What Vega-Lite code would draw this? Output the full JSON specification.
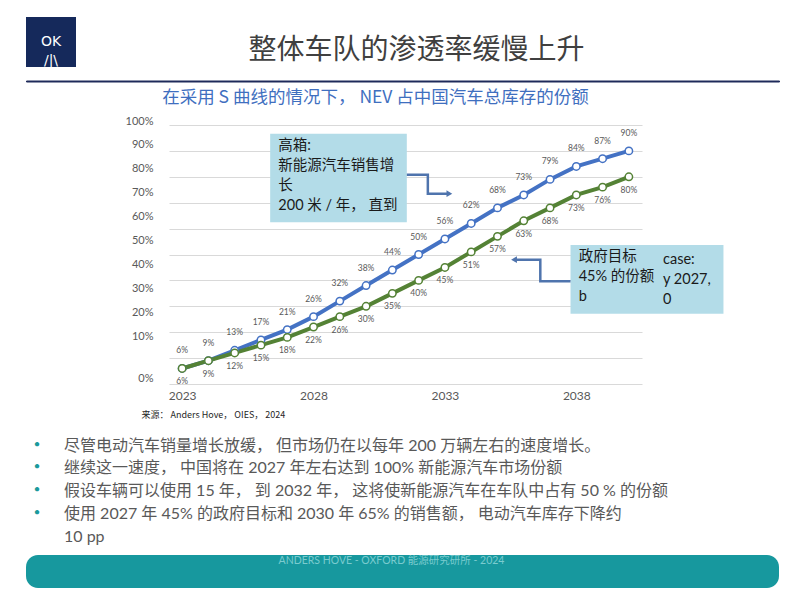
{
  "$schema": "https://vega.github.io/schema/vega-lite/v6.json",
  "background": "white",
  "padding": {"left": 25, "top": 17, "right": 10, "bottom": 14},
  "config": {
    "view": {"stroke": null},
    "font": "Noto Sans CJK SC"
  },
  "datasets": {
    "series": [
      {"s": "high", "year": 2023, "v": 0.06}, {"s": "high", "year": 2024, "v": 0.09},
      {"s": "high", "year": 2025, "v": 0.13}, {"s": "high", "year": 2026, "v": 0.17},
      {"s": "high", "year": 2027, "v": 0.21}, {"s": "high", "year": 2028, "v": 0.26},
      {"s": "high", "year": 2029, "v": 0.32}, {"s": "high", "year": 2030, "v": 0.38},
      {"s": "high", "year": 2031, "v": 0.44}, {"s": "high", "year": 2032, "v": 0.50},
      {"s": "high", "year": 2033, "v": 0.56}, {"s": "high", "year": 2034, "v": 0.62},
      {"s": "high", "year": 2035, "v": 0.68}, {"s": "high", "year": 2036, "v": 0.73},
      {"s": "high", "year": 2037, "v": 0.79}, {"s": "high", "year": 2038, "v": 0.84},
      {"s": "high", "year": 2039, "v": 0.87}, {"s": "high", "year": 2040, "v": 0.90},
      {"s": "target", "year": 2023, "v": 0.06}, {"s": "target", "year": 2024, "v": 0.09},
      {"s": "target", "year": 2025, "v": 0.12}, {"s": "target", "year": 2026, "v": 0.15},
      {"s": "target", "year": 2027, "v": 0.18}, {"s": "target", "year": 2028, "v": 0.22},
      {"s": "target", "year": 2029, "v": 0.26}, {"s": "target", "year": 2030, "v": 0.30},
      {"s": "target", "year": 2031, "v": 0.35}, {"s": "target", "year": 2032, "v": 0.40},
      {"s": "target", "year": 2033, "v": 0.45}, {"s": "target", "year": 2034, "v": 0.51},
      {"s": "target", "year": 2035, "v": 0.57}, {"s": "target", "year": 2036, "v": 0.63},
      {"s": "target", "year": 2037, "v": 0.68}, {"s": "target", "year": 2038, "v": 0.73},
      {"s": "target", "year": 2039, "v": 0.76}, {"s": "target", "year": 2040, "v": 0.80}
    ],
    "boxes": [
      {"year": 2026.35, "year2": 2031.55, "v": 0.966, "v2": 0.625},
      {"year": 2037.78, "year2": 2043.6, "v": 0.537, "v2": 0.271}
    ],
    "boxtext": [
      {"year": 2026.66, "v": 0.946, "t": "高箱:\n新能源汽车销售增\n长\n200 米 / 年， 直到"},
      {"year": 2038.09, "v": 0.519, "t": "政府目标\n45% 的份额\nb"},
      {"year": 2041.3, "v": 0.507, "t": "case:\ny 2027,\n0"}
    ],
    "arrows": [
      {"a": 1, "o": 1, "year": 2031.55, "v": 0.808},
      {"a": 1, "o": 2, "year": 2032.35, "v": 0.808},
      {"a": 1, "o": 3, "year": 2032.35, "v": 0.735},
      {"a": 1, "o": 4, "year": 2033.1, "v": 0.735},
      {"a": 2, "o": 1, "year": 2037.78, "v": 0.397},
      {"a": 2, "o": 2, "year": 2036.63, "v": 0.397},
      {"a": 2, "o": 3, "year": 2036.63, "v": 0.48},
      {"a": 2, "o": 4, "year": 2035.7, "v": 0.48}
    ],
    "heads": [
      {"year": 2033.17, "v": 0.735, "dir": "right"},
      {"year": 2035.63, "v": 0.48, "dir": "left"}
    ],
    "bullets": [
      {"line": 1, "b": "•", "t": "尽管电动汽车销量增长放缓， 但市场仍在以每年 200 万辆左右的速度增长。"},
      {"line": 2, "b": "•", "t": "继续这一速度， 中国将在 2027 年左右达到 100% 新能源汽车市场份额"},
      {"line": 3, "b": "•", "t": "假设车辆可以使用 15 年， 到 2032 年， 这将使新能源汽车在车队中占有 50 % 的份额"},
      {"line": 4, "b": "•", "t": "使用 2027 年 45% 的政府目标和 2030 年 65% 的销售额， 电动汽车库存下降约"},
      {"line": 5, "b": "", "t": "10 pp"}
    ]
  },
  "spacing": 8.5,
  "vconcat": [
    {
      "spacing": 0,
      "hconcat": [
        {
          "width": 50, "height": 50,
          "view": {"fill": "#15295B", "stroke": null},
          "data": {"values": [{"t": "OK\n/|\\"}]},
          "mark": {"type": "text", "color": "white", "fontSize": 14, "font": "DejaVu Sans", "lineBreak": "\n", "lineHeight": 19, "baseline": "middle"},
          "encoding": {"text": {"field": "t"}}
        },
        {
          "width": 703, "height": 53.5,
          "data": {"values": [{"t": "整体车队的渗透率缓慢上升"}]},
          "mark": {"type": "text", "fontSize": 28, "color": "#404040", "dx": -11, "dy": 7, "baseline": "middle"},
          "encoding": {"text": {"field": "t"}}
        }
      ]
    },
    {
      "width": 753, "height": 1,
      "view": {"fill": "#1F2A5A", "stroke": "#1F2A5A", "strokeWidth": 1},
      "data": {"values": [{"t": "在采用 S 曲线的情况下， NEV 占中国汽车总库存的份额"}]},
      "mark": {"type": "text", "fontSize": 17.5, "color": "#3F6FBF", "dx": -27, "dy": 16.5, "baseline": "middle"},
      "encoding": {"text": {"field": "t"}}
    },
    {
      "spacing": 0,
      "hconcat": [
        {
          "width": 99, "height": 10,
          "data": {"values": [{"t": ""}]},
          "mark": {"type": "text", "text": ""}
        },
        {
          "width": 473, "height": 259,
          "encoding": {
            "x": {
              "field": "year", "type": "quantitative",
              "scale": {"domain": [2022.5, 2040.5], "nice": false, "zero": false},
              "axis": {
                "values": [2023, 2028, 2033, 2038], "format": "d",
                "grid": false, "ticks": false, "tickSize": 0, "domain": false,
                "labelFontSize": 12, "labelColor": "#595959", "labelPadding": 6, "labelFont": "Lato",
                "title": "来源： Anders Hove， OIES， 2024",
                "titleFontSize": 9, "titleFontWeight": "normal", "titleColor": "#262626",
                "titleAnchor": "start", "titleAlign": "left", "titleX": -28, "titleY": 30, "titleBaseline": "middle"
              }
            },
            "y": {
              "field": "v", "type": "quantitative",
              "scale": {"domain": [0, 1], "nice": false},
              "axis": {
                "values": [0, 0.1, 0.2, 0.3, 0.4, 0.5, 0.6, 0.7, 0.8, 0.9, 1],
                "format": ".0%", "grid": true, "gridColor": "#D9D9D9", "gridWidth": 1,
                "domain": false, "ticks": false, "tickSize": 0, "labelPadding": 16,
                "labelFontSize": 11, "labelColor": "#595959", "labelFont": "Lato", "title": null,
                "labelOffset": {"expr": "datum.value < 0.05 ? -6 : -4 - (1 - datum.value) * 20"}
              }
            }
          },
          "layer": [
            {
              "data": {"name": "boxes"},
              "mark": {"type": "rect", "fill": "#B3DCE8"},
              "encoding": {"x2": {"field": "year2"}, "y2": {"field": "v2"}}
            },
            {
              "data": {"name": "series"},
              "mark": {"type": "line", "strokeWidth": 4},
              "encoding": {
                "color": {"field": "s", "type": "nominal", "scale": {"domain": ["high", "target"], "range": ["#4472C4", "#548235"]}, "legend": null}
              }
            },
            {
              "data": {"name": "series"},
              "mark": {"type": "point", "filled": true, "fill": "white", "size": 55, "strokeWidth": 1.5, "opacity": 1},
              "encoding": {
                "stroke": {"field": "s", "type": "nominal", "scale": {"domain": ["high", "target"], "range": ["#4472C4", "#548235"]}, "legend": null}
              }
            },
            {
              "data": {"name": "series"},
              "transform": [{"filter": "datum.s == 'high'"}],
              "mark": {"type": "text", "fontSize": 8.5, "color": "#595959", "dy": -18, "font": "Lato"},
              "encoding": {"text": {"field": "v", "format": ".0%"}}
            },
            {
              "data": {"name": "series"},
              "transform": [{"filter": "datum.s == 'target'"}],
              "mark": {"type": "text", "fontSize": 8.5, "color": "#595959", "dy": 13, "font": "Lato"},
              "encoding": {"text": {"field": "v", "format": ".0%"}}
            },
            {
              "data": {"name": "arrows"},
              "mark": {"type": "line", "color": "#4F74AD", "strokeWidth": 2.5},
              "encoding": {"detail": {"field": "a"}, "order": {"field": "o"}}
            },
            {
              "data": {"name": "heads"},
              "mark": {"type": "point", "filled": true, "color": "#4F74AD", "size": 45, "opacity": 1},
              "encoding": {
                "shape": {"field": "dir", "type": "nominal", "scale": {"domain": ["right", "left"], "range": ["triangle-right", "triangle-left"]}, "legend": null}
              }
            },
            {
              "data": {"name": "boxtext"},
              "mark": {"type": "text", "align": "left", "baseline": "top", "fontSize": 14.5, "lineHeight": 20, "lineBreak": "\n", "color": "#1A1A1A", "font": "Lato, 'Noto Sans CJK SC'"},
              "encoding": {"text": {"field": "t"}}
            }
          ]
        }
      ]
    },
    {
      "spacing": 16,
      "hconcat": [
        {
          "width": 22, "height": 118.5,
          "data": {"name": "bullets"},
          "mark": {"type": "text", "fontSize": 17, "fontWeight": "bold", "color": "#1A9A9C", "baseline": "middle"},
          "encoding": {
            "y": {"field": "line", "type": "quantitative", "axis": null, "scale": {"domain": [0.2, 5.41], "reverse": true, "nice": false, "zero": false}},
            "text": {"field": "b"}
          }
        },
        {
          "width": 690, "height": 118.5,
          "data": {"name": "bullets"},
          "mark": {"type": "text", "fontSize": 16, "color": "#595959", "align": "left", "baseline": "middle", "font": "Lato, 'Noto Sans CJK SC'"},
          "encoding": {
            "x": {"datum": 0, "scale": {"domain": [0, 1]}, "axis": null},
            "y": {"field": "line", "type": "quantitative", "axis": null, "scale": {"domain": [0.2, 5.41], "reverse": true, "nice": false, "zero": false}},
            "text": {"field": "t"}
          }
        }
      ]
    },
    {
      "width": 753, "height": 33,
      "view": {"fill": "#17989E", "stroke": null, "cornerRadius": 12},
      "data": {"values": [{"t": "ANDERS HOVE - OXFORD 能源研究研所 - 2024"}]},
      "mark": {"type": "text", "fontSize": 10.5, "color": "#7ACBCF", "dx": -11, "dy": -11, "font": "Lato, 'Noto Sans CJK SC'"},
      "encoding": {"text": {"field": "t"}}
    }
  ]
}
